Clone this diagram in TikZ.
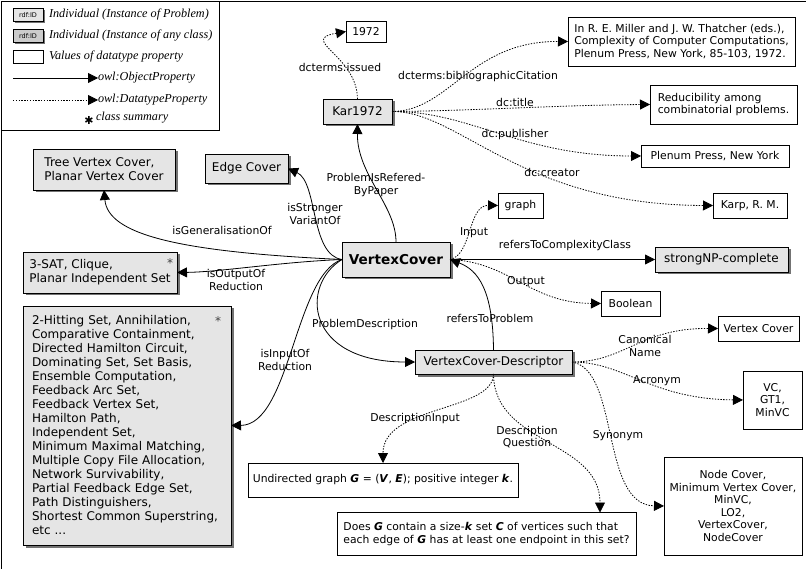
\documentclass[tikz,border=0pt]{standalone}
\usepackage{fontspec}
\setmainfont{DejaVu Sans}
\newfontfamily\legfont{Liberation Serif}
\usetikzlibrary{arrows.meta,shadows}
\begin{document}
\begin{tikzpicture}[x=1pt,y=-1pt,
  every node/.style={inner sep=0pt, outer sep=0pt},
  gbox/.style={draw, line width=0.8pt, fill=black!10,
    drop shadow={shadow xshift=2.5pt, shadow yshift=-2.5pt, fill=black!55, opacity=1},
    font=\fontsize{12}{14}\selectfont, align=center},
  wbox/.style={draw, line width=0.8pt, fill=white, font=\fontsize{10.8}{12.6}\selectfont, align=center},
  lab/.style={font=\fontsize{10.8}{12.6}\selectfont, align=center},
  leg/.style={font=\legfont\itshape\fontsize{12.2}{14}\selectfont, anchor=west},
  minib/.style={draw, line width=0.8pt, minimum width=30, minimum height=13, font=\fontsize{6.5}{7}\selectfont},
  obj/.style={line width=0.8pt, -{Triangle[length=10pt,width=10pt]}},
  dat/.style={line width=0.8pt, dash pattern=on 1.4pt off 1.4pt, -{Triangle[length=10pt,width=10pt]}},
]
\useasboundingbox (0,0) rectangle (806,569);
\draw[line width=0.8pt] (1,569) -- (1,1) -- (806,1);

% legend
\draw[line width=0.8pt] (1,1) rectangle (219,130);
\node[minib, fill=black!10, drop shadow={shadow xshift=1.5pt, shadow yshift=-1.5pt, fill=black!55, opacity=1}] (lg1) at (28,15) {rdf:ID};
\node[minib, fill=black!20, drop shadow={shadow xshift=1.5pt, shadow yshift=-1.5pt, fill=black!55, opacity=1}] (lg2) at (28,36) {rdf:ID};
\node[minib] (lg3) at (28,57) {};
\node[leg] (lt1) at (49,15) {Individual (Instance of Problem)};
\node[leg] (lt2) at (49,36) {Individual (Instance of any class)};
\node[leg] (lt3) at (49,57) {Values of datatype property};
\coordinate (la1) at (13,78);
\coordinate (la2) at (13,100);
\node[leg] (lt4) at (98,78) {owl:ObjectProperty};
\node[leg] (lt5) at (98,100) {owl:DatatypeProperty};
\draw[obj] (la1) -- (lt4.west);
\draw[dat] (la2) -- (lt5.west);
\node[font=\fontsize{11}{11}\selectfont] (ast) at (89,120) {✱};
\node[leg] (lt6) at (96,118) {class summary};

% gray nodes
\node[gbox, minimum width=142, minimum height=41, align=left] (tree) at (104,169.5) {Tree Vertex Cover,\\Planar Vertex Cover};
\node[gbox, minimum width=83, minimum height=29] (edge) at (246.5,168.5) {Edge Cover};
\node[gbox, minimum width=154, minimum height=41, align=left] (sat) at (100,272.5) {3-SAT, Clique,\phantom{MMMM}\\Planar Independent Set};
\node[font=\fontsize{12}{12}\selectfont, text=black!75] (sat-ast) at (170,263) {*};
\node[gbox, minimum width=208, minimum height=239, text width=190, align=left] (big) at (127,425.5) {2-Hitting Set, Annihilation,\\Comparative Containment,\\Directed Hamilton Circuit,\\Dominating Set, Set Basis,\\Ensemble Computation,\\Feedback Arc Set,\\Feedback Vertex Set,\\Hamilton Path,\\Independent Set,\\Minimum Maximal Matching,\\Multiple Copy File Allocation,\\Network Survivability,\\Partial Feedback Edge Set,\\Path Distinguishers,\\Shortest Common Superstring,\\etc ...};
\node[font=\fontsize{12}{12}\selectfont, text=black!75] (big-ast) at (218,321) {*};
\node[gbox, minimum width=108, minimum height=35, font=\bfseries\fontsize{13.6}{15}\selectfont] (vc) at (396,259.5) {VertexCover};
\node[gbox, minimum width=69, minimum height=25] (kar) at (357.5,111.5) {Kar1972};
\node[gbox, minimum width=157, minimum height=24] (desc) at (493.5,362) {VertexCover-Descriptor};
\node[gbox, minimum width=133, minimum height=25] (strong) at (721.5,259.5) {strongNP-complete};

% white nodes
\node[wbox, minimum width=40, minimum height=21] (y72) at (366,31.5) {1972};
\node[wbox, minimum width=227, minimum height=49, align=left] (cit) at (681.5,41.5) {In R. E. Miller and J. W. Thatcher (eds.),\\Complexity of Computer Computations,\\Plenum Press, New York, 85-103, 1972.};
\node[wbox, minimum width=147, minimum height=39, align=left] (red) at (723.5,104.5) {Reducibility among\\combinatorial problems.};
\node[wbox, minimum width=148, minimum height=22] (plen) at (715,156) {Plenum Press, New York};
\node[wbox, minimum width=74, minimum height=25] (karp) at (750,205.5) {Karp, R. M.};
\node[wbox, minimum width=45, minimum height=25] (graph) at (520.5,205.5) {graph};
\node[wbox, minimum width=59, minimum height=25] (bool) at (630.5,303.5) {Boolean};
\node[wbox, minimum width=81, minimum height=25] (vcn) at (758.5,328.5) {Vertex Cover};
\node[wbox, minimum width=59, minimum height=58] (acr) at (772.5,400) {VC,\\GT1,\\MinVC};
\node[wbox, minimum width=138, minimum height=98] (ncov) at (733,506) {Node Cover,\\Minimum Vertex Cover,\\MinVC,\\LO2,\\VertexCover,\\NodeCover};
\node[wbox, minimum width=270, minimum height=34] (und) at (383,480) {Undirected graph \textbf{\textit{G}} = (\textbf{\textit{V}}, \textbf{\textit{E}}); positive integer \textbf{\textit{k}}.};
\node[wbox, minimum width=299, minimum height=43, align=left] (does) at (486.5,534) {Does \textbf{\textit{G}} contain a size-\textbf{\textit{k}} set \textbf{\textit{C}} of vertices such that\\each edge of \textbf{\textit{G}} has at least one endpoint in this set?};

% connectors from Kar1972
\draw[dat] (kar.north) .. controls (357,55) and (298,40) .. (y72.west);
\draw[dat] (kar.east) .. controls (450,111) and (470,41) .. (cit.west);
\draw[dat] (kar.east) .. controls (470,111) and (560,105) .. (red.west);
\draw[dat] (kar.east) .. controls (470,111) and (520,156) .. (plen.west);
\draw[dat] (kar.east) .. controls (460,111) and (520,205) .. (karp.west);

% connectors from VertexCover
\draw[obj] (vc.north) .. controls (396,205) and (357,175) .. (kar.south);
\draw[obj] (vc.west) .. controls (310,255) and (318,182) .. (edge.east);
\draw[obj] (vc.west) .. controls (180,252) and (108,235) .. (tree.south);
\draw[obj] (vc.west) .. controls (280,262) and (220,272) .. (sat.east);
\draw[obj] (vc.west) .. controls (295,275) and (290,425) .. (big.east);
\draw[obj] (vc.west) .. controls (300,285) and (305,362) .. (desc.west);
\draw[obj] (desc.north) .. controls (493,290) and (478,270) .. (vc.east);
\draw[dat] (vc.east) .. controls (472,255) and (468,205) .. (graph.west);
\draw[obj] (vc.east) -- (strong.west);
\draw[dat] (vc.east) .. controls (510,262) and (530,303) .. (bool.west);

% connectors from Descriptor
\draw[dat] (desc.east) .. controls (625,362) and (640,328) .. (vcn.west);
\draw[dat] (desc.east) .. controls (625,362) and (650,399) .. (acr.west);
\draw[dat] (desc.east) .. controls (620,370) and (600,505) .. (ncov.west);
\draw[dat] (desc.south) .. controls (493,412) and (383,405) .. (und.north);
\draw[dat] (desc.south) .. controls (494,445) and (600,440) .. ([xshift=113.5pt]does.north);

% labels
\node[lab] (l-issued) at (340,67) {dcterms:issued};
\node[lab] (l-bib) at (478,77) {dcterms:bibliographicCitation};
\node[lab] (l-title) at (515,102) {dc:title};
\node[lab] (l-pub) at (515,135) {dc:publisher};
\node[lab] (l-creator) at (552,172) {dc:creator};
\node[lab] (l-paper) at (376,185) {ProblemIsRefered-\\ByPaper};
\node[lab] (l-strong) at (315,214) {isStronger\\VariantOf};
\node[lab] (l-gen) at (222,230) {isGeneralisationOf};
\node[lab] (l-out) at (236,280) {isOutputOf\\Reduction};
\node[lab] (l-in) at (285,360) {isInputOf\\Reduction};
\node[lab] (l-pd) at (365,325) {ProblemDescription};
\node[lab] (l-rtp) at (490,318) {refersToProblem};
\node[lab] (l-input) at (474,233) {Input};
\node[lab] (l-rcc) at (565,246) {refersToComplexityClass};
\node[lab] (l-output) at (526,282) {Output};
\node[lab] (l-cn) at (645,346) {Canonical\\Name};
\node[lab] (l-acr) at (657,381) {Acronym};
\node[lab] (l-syn) at (618,436) {Synonym};
\node[lab] (l-di) at (415,419) {DescriptionInput};
\node[lab] (l-dq) at (527,437) {Description\\Question};
\end{tikzpicture}
\end{document}
